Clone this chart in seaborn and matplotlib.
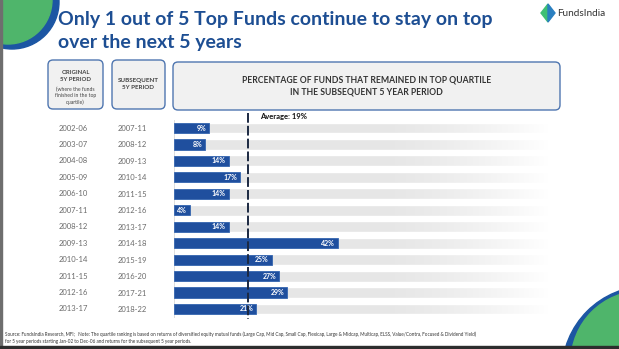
import numpy as np
import pandas as pd
import matplotlib
matplotlib.use("Agg")
import matplotlib.pyplot as plt
import seaborn as sns
from matplotlib.patches import FancyBboxPatch, Circle, Polygon, Rectangle
from matplotlib.transforms import blended_transform_factory

# ---- data -------------------------------------------------------------
original_periods = ["2002-06", "2003-07", "2004-08", "2005-09", "2006-10", "2007-11",
                    "2008-12", "2009-13", "2010-14", "2011-15", "2012-16", "2013-17"]
subsequent_periods = ["2007-11", "2008-12", "2009-13", "2010-14", "2011-15", "2012-16",
                      "2013-17", "2014-18", "2015-19", "2016-20", "2017-21", "2018-22"]
pct_in_top_quartile = [9, 8, 14, 17, 14, 4, 14, 42, 25, 27, 29, 21]
average_pct = 19

title_lines = ["Only 1 out of 5 Top Funds continue to stay on top", "over the next 5 years"]
footer_lines = [
    "Source: FundsIndia Research, MFI;   Note: The quartile ranking is based on returns of diversified equity "
    "mutual funds (Large Cap, Mid Cap, Small Cap, Flexicap, Large & Midcap, Multicap, ELSS, Value/Contra, "
    "Focused & Dividend Yield)",
    "for 5 year periods starting Jan-02 to Dec-06 and returns for the subsequent 5 year periods.",
]

# ---- style ------------------------------------------------------------
BLUE = "#1f4f9e"
NAVY_TITLE = "#1d4e93"
GREEN = "#4fb56b"
TRACK = "#e6e6e6"
BOX_EDGE = "#4f76b0"
BOX_FACE = "#f1f1f1"
GREY_TXT = "#6b6b6b"

sns.set_theme(style="white")
plt.rcParams["font.family"] = ["Lato", "DejaVu Sans"]

W, H = 619, 349
fig = plt.figure(figsize=(W / 100, H / 100), dpi=100)
fig.patch.set_facecolor("white")

# page layer in pixel coordinates
bg = fig.add_axes([0, 0, 1, 1])
bg.set_xlim(0, W)
bg.set_ylim(H, 0)
bg.axis("off")

# corner decorations
bg.add_patch(Circle((12, 2), 47, color="#1c56a3", zorder=1))
bg.add_patch(Circle((8, 0), 44, color=GREEN, zorder=2))
bg.add_patch(Circle((648, 372), 86, color="#1c56a3", zorder=1))
bg.add_patch(Circle((642, 362), 71, color=GREEN, zorder=2))
bg.add_patch(Rectangle((0, 0), 1.6, H, color="#6e6e6e", zorder=3))
bg.add_patch(Rectangle((0, 346), W, 3, color="#2d2d2d", zorder=3))

# title
for k, line in enumerate(title_lines):
    bg.text(58, 19 + 23.5 * k, line, fontsize=14, fontweight="bold",
            color=NAVY_TITLE, ha="left", va="center")

# logo
bg.add_patch(Polygon([(548, 4), (541, 13), (548, 22)], closed=True, color="#3fbf74"))
bg.add_patch(Polygon([(548, 4), (555, 13), (548, 22)], closed=True, color="#2a7fc0"))
bg.text(557, 14, "FundsIndia", fontsize=7.2, color="#333333", ha="left", va="center")

# header boxes
def header_box(x, y, w, h):
    bg.add_patch(FancyBboxPatch((x, y), w, h, boxstyle="round,pad=0,rounding_size=5",
                                fc=BOX_FACE, ec=BOX_EDGE, lw=1.0, zorder=2))

header_box(48, 60, 55, 49)
header_box(112, 60, 53, 49)
header_box(173, 62, 387, 48)
bg.text(75.5, 76, "ORIGINAL\n5Y PERIOD", fontsize=4.3, fontweight="bold", color="#444444",
        ha="center", va="center", linespacing=1.3, zorder=3)
bg.text(75.5, 95.5, "(where the funds\nfinished in the top\nquartile)", fontsize=3.7,
        color="#444444", ha="center", va="center", linespacing=1.3, zorder=3)
bg.text(138.5, 84, "SUBSEQUENT\n5Y PERIOD", fontsize=4.5, fontweight="bold", color="#444444",
        ha="center", va="center", linespacing=1.3, zorder=3)
bg.text(366.5, 86, "PERCENTAGE OF FUNDS THAT REMAINED IN TOP QUARTILE\nIN THE SUBSEQUENT 5 YEAR PERIOD",
        fontsize=6.2, fontweight="bold", color="#333333", ha="center", va="center",
        linespacing=1.45, zorder=3)

# footer
for k, line in enumerate(footer_lines):
    bg.text(5, 334 + 7 * k, line, fontsize=3.35, color="#333333", ha="left", va="center")

# ---- bar chart --------------------------------------------------------
ax = fig.add_axes([174 / W, 1 - 317.2 / H, 390 / W, 197.4 / H])
df = pd.DataFrame({"subsequent": subsequent_periods,
                   "pct": pct_in_top_quartile,
                   "track": [100] * len(subsequent_periods)})

sns.barplot(data=df, x="track", y="subsequent", orient="h", color=TRACK,
            saturation=1, width=0.66, ax=ax)
sns.barplot(data=df, x="pct", y="subsequent", orient="h", color=BLUE,
            saturation=1, width=0.62, edgecolor="#3566b0", linewidth=0.6, ax=ax)
for bar in ax.containers[1]:
    bar.set_zorder(3)

# fade the background tracks out towards the right
ramp = np.linspace(0, 1, 256) ** 1.4
fade = np.ones((1, 256, 4))
fade[..., 3] = ramp
ax.imshow(fade, extent=(52, 96, len(df) - 0.5, -0.5), aspect="auto", zorder=2,
          interpolation="bilinear")
ax.add_patch(Rectangle((96, -0.5), 10, len(df), color="white", zorder=2))

ax.set_xlim(0, 100)
ax.set_ylim(len(df) - 0.5, -0.5)

# value labels inside the bars
for i, v in enumerate(pct_in_top_quartile):
    ax.text(v - 0.7, i, f"{v}%", ha="right", va="center", color="white",
            fontsize=5, fontweight="bold", zorder=5)

# average marker
ax.vlines(average_pct, -0.92, 11.62, colors="#1b2841", linestyles=(0, (5, 1.6)),
          lw=1.4, clip_on=False, zorder=6)
ax.text(average_pct + 3.0, -0.68, f"Average: {average_pct}%", fontsize=5.5,
        fontweight="bold", color="#111111", ha="left", va="center", clip_on=False)

# period columns
ax.set_yticks(range(len(df)))
ax.set_yticklabels(subsequent_periods)
ax.tick_params(axis="y", length=0, pad=19.4, labelsize=5.5, labelcolor=GREY_TXT)
trans = blended_transform_factory(fig.transFigure, ax.transData)
for i, p in enumerate(original_periods):
    ax.text(73 / W, i, p, transform=trans, ha="center", va="center",
            fontsize=5.5, color=GREY_TXT)

ax.set_xticks([])
ax.set_xlabel("")
ax.set_ylabel("")
ax.set_facecolor("none")
for s in ["top", "right", "bottom"]:
    ax.spines[s].set_visible(False)
ax.spines["left"].set_color("#d8d8d8")
ax.spines["left"].set_linewidth(0.6)

fig.savefig("out.png", dpi=100)
